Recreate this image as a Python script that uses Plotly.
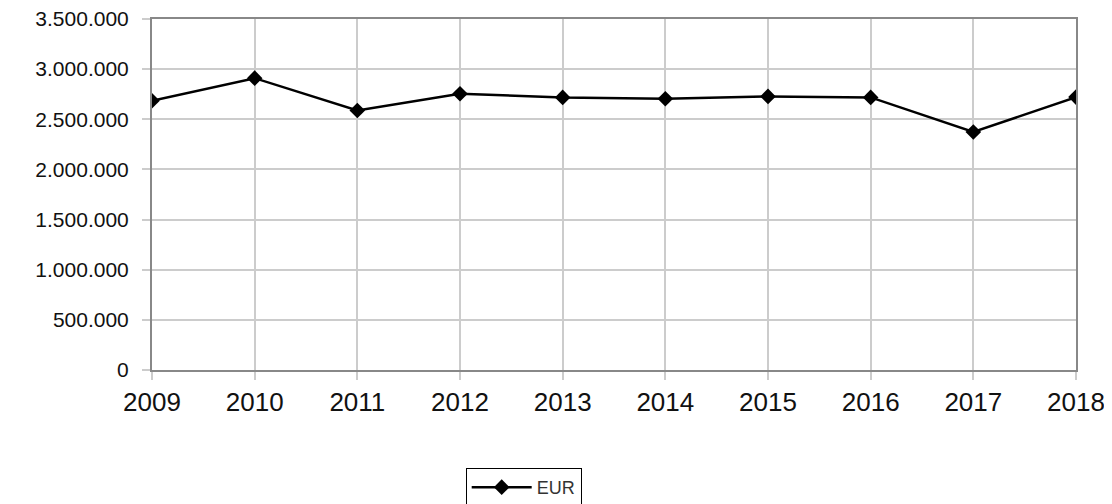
import plotly.graph_objects as go

years = [2009, 2010, 2011, 2012, 2013, 2014, 2015, 2016, 2017, 2018]
eur = [2685000, 2910000, 2588000, 2754000, 2718000, 2705000, 2728000, 2718000, 2373000, 2721000]
series_name = "EUR"
y_ticks = [0, 500000, 1000000, 1500000, 2000000, 2500000, 3000000, 3500000]

fig = go.Figure()
fig.add_trace(go.Scatter(
    x=years, y=eur, name=series_name, mode="lines+markers",
    line=dict(color="black", width=2.5),
    marker=dict(symbol="diamond", size=12, color="black"),
    showlegend=True,
))

fig.update_layout(
    width=1112, height=504,
    margin=dict(l=144, r=44, t=11, b=142, autoexpand=False),
    paper_bgcolor="white", plot_bgcolor="white",
    separators=",.",
    font=dict(family="Liberation Sans, Arial, sans-serif", size=21, color="#111111"),
    xaxis=dict(
        range=[2009, 2018], tickmode="array", tickvals=years,
        showgrid=True, gridcolor="#cccccc", gridwidth=1.5,
        showline=True, linecolor="#888888", linewidth=2, mirror=True,
        ticks="outside", ticklen=8, tickcolor="#cccccc", tickwidth=1.5,
        zeroline=False, tickfont=dict(size=26), automargin=False,
        ticklabeloverflow="allow",
    ),
    yaxis=dict(
        range=[0, 3500000], tickmode="array", tickvals=y_ticks,
        tickformat=",d",
        showgrid=True, gridcolor="#cccccc", gridwidth=1.5,
        showline=True, linecolor="#888888", linewidth=2, mirror=True,
        ticks="outside", ticklen=8, tickcolor="#cccccc", tickwidth=1.5,
        zeroline=False, tickfont=dict(size=21), automargin=False,
        ticklabelstandoff=9, ticklabeloverflow="allow",
    ),
    legend=dict(
        x=0.3395, y=-0.279, xanchor="left", yanchor="top",
        bordercolor="black", borderwidth=1,
        font=dict(size=18, color="#333333"),
        bgcolor="white", itemwidth=60,
    ),
)

fig.write_html("out.html")
